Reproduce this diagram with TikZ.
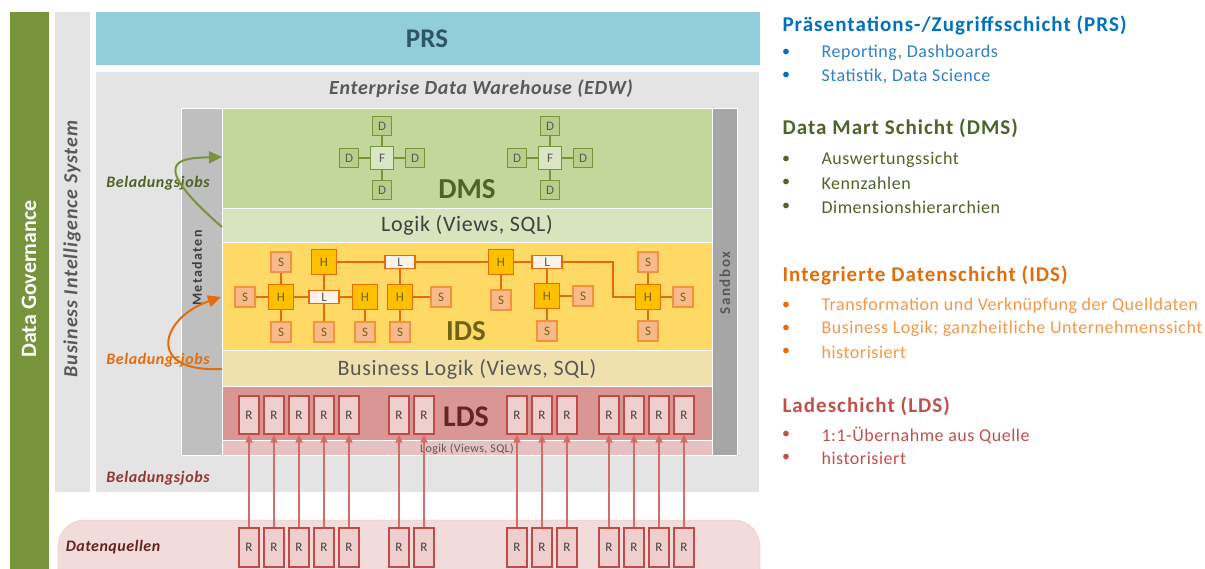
\documentclass[tikz,border=0pt]{standalone}
\usepackage{fontspec}
\setmainfont{Carlito}
\usetikzlibrary{arrows.meta}
\definecolor{dggreen}{HTML}{77933C}
\definecolor{lgray}{HTML}{E4E4E4}
\definecolor{prsblue}{HTML}{92CDDC}
\definecolor{prstext}{HTML}{2E5568}
\definecolor{metagray}{HTML}{BFBFBF}
\definecolor{sandgray}{HTML}{A6A6A6}
\definecolor{dmsfill}{HTML}{C3D69B}
\definecolor{dmslogic}{HTML}{D7E4BD}
\definecolor{idsfill}{HTML}{FFD966}
\definecolor{idslogic}{HTML}{EFE0AE}
\definecolor{ldsfill}{HTML}{D99694}
\definecolor{ldslogic}{HTML}{E6C3C2}
\definecolor{dqfill}{HTML}{F2DCDB}
\definecolor{olive}{HTML}{4F6228}
\definecolor{idstext}{HTML}{6E6418}
\definecolor{ldstext}{HTML}{632523}
\definecolor{orangeA}{HTML}{E46C0A}
\definecolor{orangeB}{HTML}{F79646}
\definecolor{redA}{HTML}{C0504D}
\definecolor{redB}{HTML}{943634}
\definecolor{blueA}{HTML}{0070C0}
\definecolor{blueB}{HTML}{2E80C8}
\definecolor{txtgray}{HTML}{595959}
\definecolor{dkgray}{HTML}{404040}
\definecolor{hfill}{HTML}{FFC000}
\definecolor{sfill}{HTML}{F9B98A}
\definecolor{lfill}{HTML}{FDF2E9}
\definecolor{dfill}{HTML}{BACE8C}
\definecolor{ffill}{HTML}{DAE6C3}
\definecolor{rfill}{HTML}{EFCFCE}
\definecolor{rline}{HTML}{BE4B48}
\definecolor{rarrowc}{HTML}{D16D6A}
\newcommand{\fs}[2]{\fontsize{#1}{#1}\selectfont\addfontfeatures{LetterSpace=#2}}
\begin{document}
\begin{tikzpicture}[x=1pt,y=-1pt,
  area/.style={inner sep=0pt,outer sep=0pt,anchor=north west,draw=white,line width=0.8pt},
  dbox/.style={draw=dggreen,fill=dfill,line width=1.1pt,minimum width=19pt,minimum height=19pt,inner sep=0pt,font=\fontsize{13}{13}\selectfont,text=txtgray},
  fbox/.style={dbox,fill=ffill,minimum width=23pt,minimum height=23pt},
  dline/.style={draw=dggreen,line width=1.8pt},
  hbox/.style={draw=orangeA,fill=hfill,line width=1.1pt,minimum width=25pt,minimum height=25pt,inner sep=0pt,font=\fontsize{13}{13}\selectfont,text=idstext},
  sbox/.style={draw=orangeB!90!orangeA,fill=sfill,line width=1.1pt,minimum width=20pt,minimum height=20pt,inner sep=0pt,font=\fontsize{13}{13}\selectfont,text=idstext},
  lbox/.style={draw=orangeA,fill=lfill,line width=1.1pt,minimum width=30pt,minimum height=13pt,inner sep=0pt,font=\fontsize{13}{13}\selectfont,text=txtgray},
  iline/.style={draw=orangeA,line width=1.8pt},
  rbox/.style={draw=rline,fill=rfill,line width=1.2pt,minimum width=20pt,minimum height=38pt,inner sep=0pt,font=\fontsize{13}{13}\selectfont,text=dkgray},
  rarrow/.style={draw=rarrowc,line width=1.3pt,-{Triangle[length=8pt,width=7pt]}},
  jobarrow/.style={line width=2pt,-{Triangle[length=13pt,width=12pt]}},
  jobs/.style={font=\bfseries\itshape\fs{16}{3.5}},
  head/.style={anchor=west,font=\bfseries\fs{21}{5}},
  item/.style={anchor=west,font=\fs{18}{3}},
  bul/.style={font=\fontsize{16}{16}\selectfont}
]
\useasboundingbox (0,0) rectangle (1205,569);
% background areas
\node[area,draw=none,fill=dqfill,rounded corners=26pt,minimum width=702pt,minimum height=90pt] (dq) at (58,520) {};
\draw[dqfill!70!redA,densely dotted,line width=0.6pt,rounded corners=26pt] (58,610) -- (58,520) -- (760,520) -- (760,610);
\node[area,draw=none,fill=dggreen,minimum width=39pt,minimum height=570pt] (dg) at (10,12) {};
\node[area,draw=none,fill=lgray,minimum width=35pt,minimum height=480pt] (bi) at (55,12) {};
\node[area,draw=none,fill=prsblue,minimum width=664pt,minimum height=53pt] (prs) at (96,12) {};
\node[area,draw=none,fill=lgray,minimum width=663pt,minimum height=420pt] (edw) at (96,72) {};
\node[area,fill=metagray,minimum width=41pt,minimum height=347pt] (meta) at (181,108) {};
\node[area,fill=sandgray,minimum width=25pt,minimum height=347pt] (sand) at (712,108) {};
\node[area,fill=dmsfill,minimum width=490pt,minimum height=100pt] (dms) at (222,108) {};
\node[area,fill=dmslogic,minimum width=490pt,minimum height=34pt] (dmsl) at (222,208) {};
\node[area,fill=idsfill,minimum width=490pt,minimum height=108pt] (ids) at (222,242) {};
\node[area,fill=idslogic,minimum width=490pt,minimum height=36pt] (idsl) at (222,350) {};
\node[area,fill=ldsfill,minimum width=490pt,minimum height=54pt] (lds) at (222,386) {};
\node[area,fill=ldslogic,minimum width=490pt,minimum height=15pt] (ldsl) at (222,440) {};
% texts of areas
\node[rotate=90,text=white,font=\bfseries\fs{22}{0}] (dgt) at (29,279) {Data Governance};
\node[rotate=90,text=txtgray,font=\bfseries\itshape\fs{20}{4.5}] (bit) at (72,249) {Business Intelligence System};
\node[text=prstext,font=\bfseries\fs{27}{0}] (prst) at (427,39) {PRS};
\node[text=txtgray,font=\bfseries\itshape\fs{20}{3.5}] (edwt) at (481,89) {Enterprise Data Warehouse (EDW)};
\node[rotate=90,text=dkgray,font=\bfseries\fs{14}{10}] (metat) at (197,268) {Metadaten};
\node[rotate=90,text=txtgray,font=\bfseries\fs{15}{10}] (sandt) at (725,283) {Sandbox};
\node[text=olive,font=\bfseries\fs{29}{0}] (dmst) at (467,189) {DMS};
\node[text=dkgray,font=\fs{22}{3}] (dmslt) at (467,225) {Logik (Views, SQL)};
\node[text=idstext,font=\bfseries\fs{29}{0}] (idst) at (466,331) {IDS};
\node[text=txtgray,font=\fs{22}{3}] (idslt) at (467,369) {Business Logik (Views, SQL)};
\node[text=ldstext,font=\bfseries\fs{30}{0}] (ldst) at (466,417) {LDS};
\node[text=txtgray,font=\fs{12}{3}] (ldslt) at (467,449) {Logik (Views, SQL)};
\node[jobs,text=olive] (job1) at (158,183) {Beladungsjobs};
\node[jobs,text=orangeA] (job2) at (158,360) {Beladungsjobs};
\node[jobs,text=redB] (job3) at (158,478) {Beladungsjobs};
\node[text=ldstext,font=\bfseries\itshape\fs{16}{3}] (dqt) at (113,547) {Datenquellen};
% load arrows
\coordinate (g1) at (222,227);
\coordinate (g2) at (222,157);
\draw[jobarrow,dggreen] (g1) .. controls (145,160) and (180,158) .. (g2);
\coordinate (o1) at (222,369);
\coordinate (o2) at (221,297);
\draw[jobarrow,orangeA] (o1) .. controls (145,373) and (160,318) .. (o2);
% DMS stars
\foreach \n/\fx in {1/382,2/550}{
  \node[fbox] (f\n) at (\fx,158) {F};
  \node[dbox] (dt\n) at (\fx,126) {D};
  \node[dbox] (db\n) at (\fx,190) {D};
  \node[dbox] (dl\n) at (\fx-33,158) {D};
  \node[dbox] (dr\n) at (\fx+33,158) {D};
  \draw[dline] (f\n) -- (dt\n) (f\n) -- (db\n) (f\n) -- (dl\n) (f\n) -- (dr\n);
}
% IDS network
\node[hbox] (hA) at (281,297) {H};
\node[sbox] (sA) at (281,262) {S};
\node[sbox] (sL) at (245,297) {S};
\node[sbox] (sB) at (281,332) {S};
\node[lbox] (lA) at (324,297) {L};
\node[sbox] (sC) at (324,332) {S};
\node[hbox] (hT1) at (324,262) {H};
\node[hbox] (hB) at (365,297) {H};
\node[sbox] (sD) at (365,332) {S};
\node[lbox] (lT1) at (400,262) {L};
\node[hbox] (hC) at (400,297) {H};
\node[sbox] (sE) at (441,297) {S};
\node[sbox] (sF) at (400,332) {S};
\node[hbox] (hT2) at (501,262) {H};
\node[sbox] (sG) at (501,300) {S};
\node[lbox] (lT2) at (547,262) {L};
\node[hbox] (hD) at (547,296) {H};
\node[sbox] (sH) at (583,296) {S};
\node[sbox] (sI) at (547,331) {S};
\node[hbox] (hE) at (648,297) {H};
\node[sbox] (sJ) at (648,262) {S};
\node[sbox] (sK) at (683,297) {S};
\node[sbox] (sM) at (648,331) {S};
\coordinate (bend) at (613,262);
\draw[iline] (sA) -- (hA) (sL) -- (hA) (hA) -- (sB) (hA) -- (lA) (lA) -- (hB) (lA) -- (sC)
  (hT1) -- (lA) (hB) -- (sD) (hT1) -- (lT1) (lT1) -- (hT2) (lT1) -- (hC) (hC) -- (sE) (hC) -- (sF)
  (hT2) -- (sG) (hT2) -- (lT2) (lT2) -- (hD) (hD) -- (sH) (hD) -- (sI)
  (sJ) -- (hE) (hE) -- (sK) (hE) -- (sM);
\draw[iline] (lT2) -- (bend) |- (hE);
% R boxes
\foreach \x [count=\i] in {249,274,299,324,349,399,424,517,542,567,609,634,659,684}{
  \node[rbox] (r\i) at (\x,415) {R};
  \node[rbox,minimum height=39pt] (q\i) at (\x,547.5) {R};
  \draw[rarrow] (q\i) -- (r\i);
}
% legend
\node[head,text=blueA] (h1) at (779,25) {Präsentations-/Zugriffsschicht (PRS)};
\node[bul,text=blueA] (b11) at (786,53) {•};
\node[item,text=blueB] (i11) at (818,53) {Reporting, Dashboards};
\node[bul,text=blueA] (b12) at (786,76) {•};
\node[item,text=blueB] (i12) at (818,76) {Statistik, Data Science};
\node[head,text=olive] (h2) at (779,128) {Data Mart Schicht (DMS)};
\node[bul,text=olive] (b21) at (786,160) {•};
\node[item,text=olive] (i21) at (818,160) {Auswertungssicht};
\node[bul,text=olive] (b22) at (786,183) {•};
\node[item,text=olive] (i22) at (818,183) {Kennzahlen};
\node[bul,text=olive] (b23) at (786,207) {•};
\node[item,text=olive] (i23) at (818,207) {Dimensionshierarchien};
\node[head,text=orangeA] (h3) at (779,275) {Integrierte Datenschicht (IDS)};
\node[bul,text=orangeA] (b31) at (786,306) {•};
\node[item,text=orangeB] (i31) at (818,306) {Transformation und Verknüpfung der Quelldaten};
\node[bul,text=orangeA] (b32) at (786,329) {•};
\node[item,text=orangeB] (i32) at (818,329) {Business Logik; ganzheitliche Unternehmenssicht};
\node[bul,text=orangeA] (b33) at (786,352) {•};
\node[item,text=orangeB] (i33) at (818,352) {historisiert};
\node[head,text=redA] (h4) at (779,406) {Ladeschicht (LDS)};
\node[bul,text=redA] (b41) at (786,435) {•};
\node[item,text=redA] (i41) at (818,435) {1:1-Übernahme aus Quelle};
\node[bul,text=redA] (b42) at (786,458) {•};
\node[item,text=redA] (i42) at (818,458) {historisiert};
\end{tikzpicture}
\end{document}
